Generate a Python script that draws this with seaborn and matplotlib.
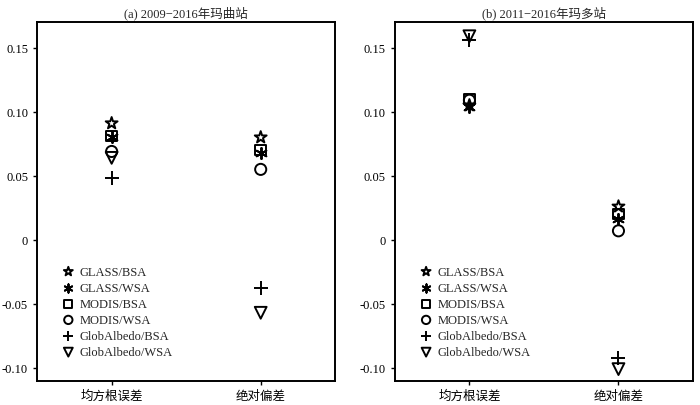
import pandas as pd
import seaborn as sns
import matplotlib.pyplot as plt

# Data
metrics = ["均方根误差", "绝对偏差"]
series = ["GLASS/BSA", "GLASS/WSA", "MODIS/BSA", "MODIS/WSA", "GlobAlbedo/BSA", "GlobAlbedo/WSA"]

maqu_rmse = [0.091, 0.080, 0.081, 0.069, 0.048, 0.064]
maqu_bias = [0.080, 0.068, 0.070, 0.055, -0.038, -0.057]
maduo_rmse = [0.105, 0.104, 0.110, 0.109, 0.156, 0.159]
maduo_bias = [0.026, 0.016, 0.020, 0.007, -0.092, -0.101]

titles = ["(a) 2009\u22122016年玛曲站", "(b) 2011\u22122016年玛多站"]
ytick_vals = [-0.10, -0.05, 0, 0.05, 0.10, 0.15]
ytick_labels = ["-0.10", "-0.05", "0", "0.05", "0.10", "0.15"]

# marker styles per series
marker_map = {
    "GLASS/BSA": ("*", True, 9),
    "GLASS/WSA": ((6, 2, 0), False, 8),
    "MODIS/BSA": ("s", True, 7.5),
    "MODIS/WSA": ("o", True, 8),
    "GlobAlbedo/BSA": ("+", False, 10),
    "GlobAlbedo/WSA": ("v", True, 8.5),
}

def build_frame(rmse, bias):
    rows = []
    for s, r, b in zip(series, rmse, bias):
        rows.append({"series": s, "metric": 0, "value": r})
        rows.append({"series": s, "metric": 1, "value": b})
    return pd.DataFrame(rows)

sns.set_theme(style="ticks")
plt.rcParams["font.family"] = ["Liberation Serif", "Noto Sans CJK SC", "DejaVu Sans"]
plt.rcParams["axes.unicode_minus"] = False

fig, axes = plt.subplots(1, 2, figsize=(7, 4.06), dpi=100)
frames = [build_frame(maqu_rmse, maqu_bias), build_frame(maduo_rmse, maduo_bias)]

for ax, df, title in zip(axes, frames, titles):
    for s in series:
        m, filled, ms = marker_map[s]
        sub = df[df["series"] == s]
        if filled:
            sns.scatterplot(data=sub, x="metric", y="value", ax=ax, marker=m,
                            s=ms ** 2, facecolors="none", edgecolor="black",
                            linewidth=1.4, label=s)
        else:
            sns.scatterplot(data=sub, x="metric", y="value", ax=ax, marker=m,
                            s=ms ** 2, color="black", linewidth=1.4, label=s)
    ax.set_xlim(-0.5, 1.5)
    ax.set_ylim(-0.11, 0.17)
    ax.set_xticks([0, 1])
    ax.set_xticklabels(metrics, fontsize=9)
    ax.set_yticks(ytick_vals)
    ax.set_yticklabels(ytick_labels, fontsize=9)
    ax.set_xlabel("")
    ax.set_ylabel("")
    ax.set_title(title, fontsize=9, pad=4)
    for sp in ax.spines.values():
        sp.set_visible(True)
        sp.set_linewidth(1.4)
        sp.set_color("black")
    ax.tick_params(direction="out", length=3, width=1, colors="black")
    ax.legend(loc="lower left", bbox_to_anchor=(0.067, 0.048), frameon=False,
              fontsize=9, handletextpad=0.4, labelspacing=0.33,
              handlelength=1.0, borderaxespad=0, markerscale=0.75)

plt.subplots_adjust(left=0.053, right=0.99, top=0.943, bottom=0.06, wspace=0.2)
fig.savefig("out.png", dpi=100)
